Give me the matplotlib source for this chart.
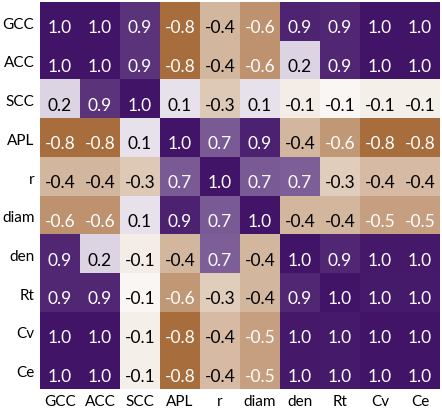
import numpy as np
import matplotlib
matplotlib.use("Agg")
import matplotlib.pyplot as plt
from matplotlib.colors import LinearSegmentedColormap

plt.rcParams['font.family'] = ['Lato', 'DejaVu Sans']

labels = ['GCC', 'ACC', 'SCC', 'APL', 'r', 'diam', 'den', 'Rt', 'Cv', 'Ce']

# values (shading used to guess the 2nd decimal)
row_gcc  = [1.00, 1.00, 0.86, -0.80, -0.40, -0.60, 0.93, 0.92, 1.00, 1.00]
row_acc  = [1.00, 1.00, 0.86, -0.80, -0.40, -0.60, 0.18, 0.92, 1.00, 1.00]
row_scc  = [0.18, 0.86, 1.00, 0.13, -0.30, 0.13, -0.10, -0.05, -0.09, -0.09]
row_apl  = [-0.80, -0.80, 0.13, 1.00, 0.70, 0.94, -0.40, -0.57, -0.80, -0.80]
row_r    = [-0.40, -0.40, -0.30, 0.70, 1.00, 0.70, 0.68, -0.28, -0.38, -0.38]
row_diam = [-0.60, -0.60, 0.13, 0.94, 0.70, 1.00, -0.40, -0.40, -0.53, -0.53]
row_den  = [0.92, 0.18, -0.10, -0.40, 0.68, -0.40, 1.00, 0.92, 0.98, 0.98]
row_rt   = [0.92, 0.92, -0.05, -0.57, -0.28, -0.40, 0.92, 1.00, 0.97, 0.97]
row_cv   = [1.00, 1.00, -0.09, -0.80, -0.38, -0.53, 0.98, 0.97, 1.00, 1.00]
row_ce   = [1.00, 1.00, -0.09, -0.80, -0.38, -0.53, 0.98, 0.97, 1.00, 1.00]

corr = np.array([row_gcc, row_acc, row_scc, row_apl, row_r,
                 row_diam, row_den, row_rt, row_cv, row_ce])

cmap = LinearSegmentedColormap.from_list('brown_purple', ['#924a0e', '#ffffff', '#421467'])

fig = plt.figure(figsize=(4.42, 4.17), dpi=100)
ax = fig.add_axes([40/442, 28/417, 400/442, 387/417])
ax.pcolormesh(corr, cmap=cmap, vmin=-1, vmax=1)
ax.set_xlim(0, len(labels))
ax.set_ylim(len(labels), 0)

def lum(c):
    rgb = np.array(c[:3])
    lin = np.where(rgb <= 0.03928, rgb / 12.92, ((rgb + 0.055) / 1.055) ** 2.4)
    return 0.2126 * lin[0] + 0.7152 * lin[1] + 0.0722 * lin[2]

for i in range(corr.shape[0]):
    for j in range(corr.shape[1]):
        v = corr[i, j]
        col = cmap((v + 1) / 2)
        tc = 'white' if lum(col) < 0.45 else 'black'
        ax.text(j + 0.5, i + 0.68, f"{v:.1f}", ha='center', va='center',
                color=tc, fontsize=12.5)

ax.set_xticks(np.arange(len(labels)) + 0.5)
ax.set_yticks(np.arange(len(labels)) + 0.55)
ax.set_xticklabels(labels, fontsize=11)
ax.set_yticklabels(labels, fontsize=11, rotation=0)
ax.tick_params(length=0, pad=4)
for s in ax.spines.values():
    s.set_visible(False)

fig.savefig('out.png', dpi=100)
